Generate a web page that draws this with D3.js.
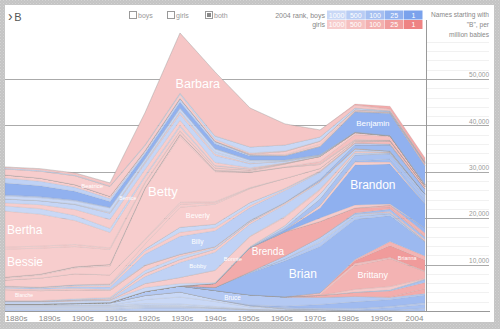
<!DOCTYPE html>
<html>
<head>
<meta charset="utf-8">
<script src="https://cdnjs.cloudflare.com/ajax/libs/d3/7.8.5/d3.min.js"></script>
<style>
  html, body { margin: 0; padding: 0; background: #c6c6c6; }
  svg { display: block; }
  text { font-family: "Liberation Sans", Arial, sans-serif; }
</style>
</head>
<body>
<script>
var WIDTH = 500, HEIGHT = 329;

// decades on the x axis; the last column is the 2004 figure
var decades = [1880, 1890, 1900, 1910, 1920, 1930, 1940, 1950, 1960, 1970, 1980, 1990, 2000];
var decadeLabels = ['1880s', '1890s', '1900s', '1910s', '1920s', '1930s', '1940s',
                    '1950s', '1960s', '1970s', '1980s', '1990s', '2004'];
var yTicks = [10000, 20000, 30000, 40000, 50000];

// 2004 popularity rank buckets shown in the key
var rankSteps = [1000, 500, 100, 25, 1];
var boyShades = ['#c9d8f6', '#b8ccf4', '#a5bff1', '#90b1ef', '#7aa2ec'];
var girlShades = ['#f7cdcd', '#f5c0c0', '#f3b0b0', '#f09c9c', '#ee8383'];

// babies per million, one value per decade (0 rank = not in the 2004 top 1000)
var boyNames = ['Barney', 'Barry', 'Beau', 'Ben', 'Benjamin', 'Bennett', 'Bennie', 'Benny',
  'Bernard', 'Bert', 'Bill', 'Billy', 'Blake', 'Bob', 'Bobby', 'Boyd', 'Brad', 'Braden',
  'Bradley', 'Brady', 'Brandon', 'Brayden', 'Brendan', 'Brent', 'Bret', 'Brett', 'Brian',
  'Brock', 'Brody', 'Bruce', 'Bryan', 'Bryant', 'Bryce', 'Bryson', 'Bud', 'Buddy', 'Buford',
  'Burl', 'Burt', 'Burton', 'Byron'];
var boyRanks = [0, 0, 300, 700, 26, 350, 0, 0, 900, 0, 0, 600, 75, 0, 700, 0, 0, 170,
  150, 100, 22, 45, 100, 600, 0, 400, 55, 500, 150, 350, 70, 450, 120, 250, 0, 0, 0,
  0, 0, 0, 600];
var boyValues = [
  [215, 215, 170, 110, 110, 110, 65, 0, 0, 0, 0, 0, 0],
  [0, 0, 0, 0, 110, 215, 645, 1295, 1295, 860, 325, 110, 0],
  [0, 0, 0, 0, 0, 0, 0, 0, 0, 0, 0, 215, 215],
  [1080, 970, 860, 645, 430, 645, 430, 215, 110, 110, 110, 110, 150],
  [2585, 2370, 1940, 1295, 1080, 1295, 1080, 860, 860, 1725, 4310, 4740, 3880],
  [215, 215, 170, 110, 65, 65, 65, 65, 65, 45, 45, 65, 215],
  [645, 645, 645, 860, 540, 645, 645, 325, 110, 45, 0, 0, 0],
  [0, 0, 110, 215, 215, 215, 430, 325, 110, 65, 0, 0, 0],
  [860, 860, 1080, 1295, 1295, 1295, 1510, 860, 325, 170, 85, 0, 0],
  [1120, 1185, 1080, 860, 325, 325, 110, 65, 0, 0, 0, 0, 0],
  [110, 110, 215, 215, 430, 1080, 755, 645, 215, 110, 0, 0, 0],
  [215, 215, 325, 540, 2370, 3880, 3450, 2800, 2585, 1510, 430, 215, 0],
  [0, 0, 0, 0, 0, 0, 0, 0, 0, 325, 755, 1295, 1080],
  [110, 110, 215, 215, 645, 645, 325, 215, 110, 0, 0, 0, 0],
  [0, 0, 65, 110, 1510, 3230, 3880, 2585, 2585, 1510, 430, 215, 0],
  [430, 430, 430, 430, 860, 540, 215, 110, 0, 0, 0, 0, 0],
  [0, 0, 0, 0, 0, 0, 0, 65, 430, 1080, 430, 110, 0],
  [0, 0, 0, 0, 0, 0, 0, 0, 0, 0, 0, 215, 645],
  [0, 0, 0, 0, 0, 0, 0, 110, 540, 1295, 1295, 1080, 645],
  [0, 0, 0, 0, 0, 0, 0, 0, 0, 65, 215, 645, 860],
  [0, 0, 0, 0, 0, 0, 0, 0, 430, 2155, 8620, 8620, 5170],
  [0, 0, 0, 0, 0, 0, 0, 0, 0, 0, 0, 0, 1080],
  [0, 0, 0, 0, 0, 0, 0, 0, 0, 0, 215, 540, 540],
  [0, 0, 0, 0, 0, 0, 0, 110, 645, 860, 430, 215, 110],
  [0, 0, 0, 0, 0, 0, 0, 0, 0, 215, 110, 0, 0],
  [0, 0, 0, 0, 0, 0, 0, 110, 430, 860, 645, 430, 110],
  [0, 0, 0, 0, 0, 0, 645, 4740, 7760, 10020, 8620, 5605, 3015],
  [0, 0, 0, 0, 0, 0, 0, 0, 0, 0, 65, 110, 110],
  [0, 0, 0, 0, 0, 0, 0, 0, 0, 0, 0, 110, 645],
  [110, 110, 110, 110, 860, 1295, 1940, 2155, 1940, 1510, 1165, 430, 280],
  [0, 0, 0, 0, 0, 0, 0, 170, 325, 860, 1510, 1510, 1725],
  [0, 0, 0, 0, 0, 0, 0, 0, 215, 215, 215, 215, 325],
  [0, 0, 0, 0, 0, 0, 0, 0, 0, 65, 215, 645, 860],
  [0, 0, 0, 0, 0, 0, 0, 0, 0, 0, 0, 110, 540],
  [215, 215, 325, 430, 860, 1080, 430, 280, 65, 0, 0, 0, 0],
  [0, 0, 65, 110, 860, 1510, 1080, 430, 215, 215, 0, 0, 0],
  [215, 215, 215, 215, 325, 325, 215, 110, 0, 0, 0, 0, 0],
  [110, 110, 110, 110, 215, 215, 110, 45, 0, 0, 0, 0, 0],
  [325, 325, 325, 325, 215, 110, 0, 0, 0, 0, 0, 0, 0],
  [215, 215, 215, 215, 215, 215, 110, 65, 110, 0, 0, 0, 0],
  [325, 325, 325, 325, 645, 645, 540, 215, 110, 65, 45, 20, 20]
];

var girlNames = ['Bailey', 'Barbara', 'Beatrice', 'Becky', 'Belinda', 'Bella', 'Belle',
  'Bernadine', 'Bernice', 'Bertha', 'Bertie', 'Bessie', 'Beth', 'Bethany', 'Betsy', 'Bettie',
  'Betty', 'Bettye', 'Beulah', 'Beverly', 'Bianca', 'Billie', 'Birdie', 'Blanche', 'Bobbi',
  'Bobbie', 'Bonita', 'Bonnie', 'Brandi', 'Brandy', 'Breanna', 'Brenda', 'Brenna', 'Briana',
  'Brianna', 'Bridget', 'Brittany', 'Brittney', 'Brooke', 'Brooklyn'];
var girlRanks = [65, 700, 0, 0, 0, 150, 0, 0, 0, 0, 0, 0, 0, 500, 0, 0, 0, 0, 0, 0, 300,
  0, 0, 0, 0, 0, 0, 0, 0, 900, 120, 70, 400, 150, 22, 500, 130, 800, 80, 70];
var girlValues = [
  [0, 0, 0, 0, 0, 0, 0, 0, 0, 0, 215, 645, 860],
  [215, 325, 430, 645, 6895, 12930, 13790, 8405, 4525, 1510, 645, 325, 110],
  [1295, 1510, 1940, 2155, 1080, 860, 430, 215, 110, 65, 45, 0, 0],
  [0, 0, 0, 0, 0, 0, 0, 110, 645, 645, 215, 65, 0],
  [0, 0, 0, 0, 0, 0, 65, 110, 215, 430, 170, 45, 0],
  [0, 0, 0, 0, 0, 0, 0, 0, 0, 0, 0, 45, 430],
  [645, 645, 540, 430, 215, 110, 45, 0, 0, 0, 0, 0, 0],
  [0, 0, 0, 110, 215, 430, 325, 110, 0, 0, 0, 0, 0],
  [645, 860, 1295, 1940, 1295, 1080, 645, 215, 110, 45, 0, 0, 0],
  [7760, 6895, 5170, 3340, 1080, 860, 430, 215, 110, 0, 0, 0, 0],
  [430, 430, 430, 325, 215, 110, 45, 0, 0, 0, 0, 0, 0],
  [6035, 5605, 4375, 3230, 1080, 645, 430, 215, 65, 0, 0, 0, 0],
  [0, 0, 0, 0, 0, 0, 110, 215, 605, 1080, 430, 110, 0],
  [0, 0, 0, 0, 0, 0, 0, 0, 65, 430, 1080, 860, 325],
  [0, 0, 0, 0, 0, 0, 0, 0, 0, 215, 110, 45, 0],
  [215, 215, 215, 325, 215, 430, 215, 110, 45, 0, 0, 0, 0],
  [430, 645, 1295, 1940, 10775, 14225, 6465, 3230, 2370, 860, 215, 65, 0],
  [0, 0, 0, 0, 215, 430, 215, 110, 0, 0, 0, 0, 0],
  [1295, 1940, 2370, 1940, 860, 645, 325, 110, 0, 0, 0, 0, 0],
  [0, 0, 0, 110, 1080, 4310, 4310, 3015, 2155, 540, 215, 65, 0],
  [0, 0, 0, 0, 0, 0, 0, 0, 0, 65, 215, 645, 540],
  [110, 110, 215, 325, 645, 860, 645, 430, 215, 110, 0, 0, 0],
  [325, 325, 325, 215, 110, 45, 0, 0, 0, 0, 0, 0, 0],
  [2370, 2155, 1940, 1510, 1080, 430, 215, 110, 0, 0, 0, 0, 0],
  [0, 0, 0, 0, 0, 0, 0, 0, 110, 215, 110, 0, 0],
  [65, 65, 110, 215, 645, 645, 645, 430, 215, 65, 0, 0, 0],
  [0, 0, 0, 0, 0, 0, 65, 110, 215, 215, 65, 0, 0],
  [110, 110, 110, 110, 860, 1295, 2585, 2155, 1725, 860, 325, 110, 0],
  [0, 0, 0, 0, 0, 0, 0, 0, 0, 540, 645, 430, 0],
  [0, 0, 0, 0, 0, 0, 0, 0, 0, 755, 645, 215, 0],
  [0, 0, 0, 0, 0, 0, 0, 0, 0, 0, 0, 430, 645],
  [0, 0, 0, 0, 0, 0, 860, 5170, 5170, 3450, 1080, 430, 215],
  [0, 0, 0, 0, 0, 0, 0, 0, 0, 0, 0, 215, 325],
  [0, 0, 0, 0, 0, 0, 0, 0, 0, 0, 215, 860, 860],
  [0, 0, 0, 0, 0, 0, 0, 0, 0, 0, 645, 2585, 2370],
  [0, 0, 0, 0, 0, 0, 0, 0, 0, 430, 430, 215, 110],
  [0, 0, 0, 0, 0, 0, 0, 0, 0, 110, 5170, 6035, 1510],
  [0, 0, 0, 0, 0, 0, 0, 0, 0, 0, 580, 710, 110],
  [0, 0, 0, 0, 0, 0, 0, 0, 65, 430, 860, 1295, 1295],
  [0, 0, 0, 0, 0, 0, 0, 0, 0, 0, 0, 110, 1080]
];

// names written inside their band: [name, year where it sits, font size, anchor]
var bandLabels = [
  ['Barbara', 1935.1, 12.5, 'middle'], ['Betty', 1925.1, 13, 'middle'],
  ['Bertha', 1885.7, 12, 'start'], ['Bessie', 1885.7, 12, 'start'],
  ['Blanche', 1885.1, 5, 'start'], ['Beatrice', 1904.9, 6, 'middle'],
  ['Bernice', 1915.1, 5, 'middle'], ['Beverly', 1935.1, 7.2, 'middle'],
  ['Billy', 1935, 6.5, 'middle'], ['Bobby', 1935.1, 6, 'middle'],
  ['Bonnie', 1945.1, 5.8, 'middle'], ['Bruce', 1945, 6.4, 'middle'],
  ['Brenda', 1955.1, 10, 'middle'], ['Brian', 1965.1, 12, 'middle'],
  ['Benjamin', 1985.1, 8, 'middle'], ['Brandon', 1985.1, 12, 'middle'],
  ['Brittany', 1985.1, 9, 'middle'], ['Brianna', 1994.9, 5.4, 'middle']
];
var labelLeft = { Bertha: 7, Bessie: 7, Blanche: 15 };

// ---- build the table ----
var people = boyNames.map(function (n, i) {
  return { name: n, sex: 'M', rank: boyRanks[i], values: boyValues[i] };
}).concat(girlNames.map(function (n, i) {
  return { name: n, sex: 'F', rank: girlRanks[i], values: girlValues[i] };
})).sort(function (a, b) { return d3.ascending(a.name, b.name); });

var byName = {};
people.forEach(function (p) { byName[p.name] = p; });

var rows = decades.map(function (yr, i) {
  var row = { year: yr };
  people.forEach(function (p) { row[p.name] = p.values[i]; });
  return row;
});

// alphabetical from the top down, so the first name goes on last
var keys = people.map(function (p) { return p.name; }).reverse();
var series = d3.stack().keys(keys)(rows);

var x = d3.scaleLinear().domain([1880, 2000]).range([5, 425]);
var y = d3.scaleLinear().domain([0, 50000]).range([311, 79]);
var xLabel = d3.scalePoint().domain(decadeLabels).range([16.5, 414.5]);

var boyColor = d3.scaleLog().domain(rankSteps).range(boyShades).clamp(true);
var girlColor = d3.scaleLog().domain(rankSteps).range(girlShades).clamp(true);
function fillFor(p) {
  var r = p.rank || 1000;
  return p.sex === 'M' ? boyColor(r) : girlColor(r);
}

// ---- page ----
var svg = d3.select('body').append('svg')
  .attr('width', WIDTH)
  .attr('height', HEIGHT);

var pat = svg.append('defs').append('pattern')
  .attr('id', 'frame')
  .attr('width', 3).attr('height', 3)
  .attr('patternUnits', 'userSpaceOnUse');
pat.append('rect').attr('width', 3).attr('height', 3).attr('fill', '#c4c4c4');
pat.append('rect').attr('width', 1).attr('height', 1).attr('fill', '#d3d3d3');
pat.append('rect').attr('x', 1.5).attr('y', 1.5).attr('width', 1).attr('height', 1).attr('fill', '#d0d0d0');

svg.append('rect').attr('width', WIDTH).attr('height', HEIGHT).attr('fill', 'url(#frame)');
svg.append('rect').attr('x', 5).attr('y', 5).attr('width', 489).attr('height', 317).attr('fill', '#fff');

// faint minor lines in the scale column
var minor = d3.range(2000, 60000, 2000).filter(function (v) { return v % 10000 !== 0; });
svg.append('g').selectAll('line')
  .data(minor)
  .enter()
  .append('line')
  .attr('x1', 427).attr('x2', 489)
  .attr('y1', function (d) { return Math.round(y(d)) + 0.5; })
  .attr('y2', function (d) { return Math.round(y(d)) + 0.5; })
  .attr('stroke', '#f1f1f1');

// major gridlines run under the stream
svg.append('g').selectAll('line')
  .data(yTicks)
  .enter()
  .append('line')
  .attr('x1', 5).attr('x2', 489)
  .attr('y1', function (d) { return Math.round(y(d)) + 0.5; })
  .attr('y2', function (d) { return Math.round(y(d)) + 0.5; })
  .attr('stroke', '#aaa');

var area = d3.area()
  .x(function (d) { return x(d.data.year); })
  .y0(function (d) { return y(d[0]); })
  .y1(function (d) { return y(d[1]); });

svg.append('g')
  .selectAll('path')
  .data(series)
  .enter()
  .append('path')
  .attr('d', area)
  .attr('fill', function (s) { return fillFor(byName[s.key]); })
  .attr('stroke', 'rgba(150,150,150,0.25)')
  .attr('stroke-width', 0.6);

// band labels sit on the middle of the band at the given year
function bandMid(s, year) {
  var i = Math.max(0, Math.min(decades.length - 2, Math.floor((year - decades[0]) / 10)));
  var t = (year - decades[i]) / 10;
  var a = s[i], b = s[i + 1];
  var lo = a[0] + (b[0] - a[0]) * t;
  var hi = a[1] + (b[1] - a[1]) * t;
  return y((lo + hi) / 2);
}
var seriesByKey = {};
series.forEach(function (s) { seriesByKey[s.key] = s; });

svg.append('g')
  .selectAll('text')
  .data(bandLabels)
  .enter()
  .append('text')
  .attr('x', function (d) { return d[3] === 'start' ? labelLeft[d[0]] : x(d[1]); })
  .attr('y', function (d) { return bandMid(seriesByKey[d[0]], d[1]); })
  .attr('dy', '0.36em')
  .attr('text-anchor', function (d) { return d[3]; })
  .attr('font-size', function (d) { return d[2] + 'px'; })
  .attr('fill', '#fff')
  .text(function (d) { return d[0]; });

// axis frame
svg.append('line')
  .attr('x1', 5).attr('x2', 490).attr('y1', 311.5).attr('y2', 311.5)
  .attr('stroke', '#999');
svg.append('line')
  .attr('x1', 426.5).attr('x2', 426.5).attr('y1', 20).attr('y2', 311.5)
  .attr('stroke', '#999');

svg.append('g').selectAll('text')
  .data(yTicks)
  .enter()
  .append('text')
  .attr('x', 489)
  .attr('y', function (d) { return y(d) - 1.8; })
  .attr('text-anchor', 'end')
  .attr('font-size', '6.5px')
  .attr('fill', '#999')
  .text(d3.format(','));

svg.append('g').selectAll('text')
  .data(decadeLabels)
  .enter()
  .append('text')
  .attr('x', function (d) { return xLabel(d); })
  .attr('y', 321)
  .attr('text-anchor', 'middle')
  .attr('font-size', '8px')
  .attr('fill', '#888')
  .text(function (d) { return d; });

// header: search prefix, filter boxes, rank key
var prefix = svg.append('text').attr('x', 8).attr('y', 21).attr('fill', '#555');
prefix.append('tspan').attr('font-size', '14px').attr('dy', -0.5).text('\u203A');
prefix.append('tspan').attr('font-size', '11px').attr('dx', 1.5).attr('dy', 0.5).text('B');

var filters = [['boys', 129.5, false], ['girls', 167.5, false], ['both', 205.5, true]];
var box = svg.append('g').selectAll('g')
  .data(filters)
  .enter()
  .append('g');
box.append('rect')
  .attr('x', function (d) { return d[1]; }).attr('y', 11.5)
  .attr('width', 7).attr('height', 7)
  .attr('fill', '#fff').attr('stroke', '#999');
box.filter(function (d) { return d[2]; })
  .append('rect')
  .attr('x', function (d) { return d[1] + 1.5; }).attr('y', 13)
  .attr('width', 4).attr('height', 4)
  .attr('fill', '#888');
box.append('text')
  .attr('x', function (d) { return d[1] + 8.5; }).attr('y', 17.5)
  .attr('font-size', '7px')
  .attr('fill', '#999')
  .text(function (d) { return d[0]; });

var keyRows = [['2004 rank, boys', boyShades, 10.5], ['girls', girlShades, 20]];
var cellW = 19.2;
keyRows.forEach(function (kr) {
  svg.append('text')
    .attr('x', 325).attr('y', kr[2] + 7)
    .attr('text-anchor', 'end')
    .attr('font-size', '7px')
    .attr('fill', '#888')
    .text(kr[0]);
  var cell = svg.append('g').selectAll('g')
    .data(rankSteps)
    .enter()
    .append('g')
    .attr('transform', function (d, i) { return 'translate(' + (327 + i * cellW) + ',' + kr[2] + ')'; });
  cell.append('rect')
    .attr('width', cellW - 0.5).attr('height', 9)
    .attr('fill', function (d, i) { return kr[1][i]; });
  cell.append('text')
    .attr('x', cellW / 2).attr('y', 7)
    .attr('text-anchor', 'middle')
    .attr('font-size', '7px')
    .attr('fill', '#fff')
    .text(function (d) { return d; });
});

svg.append('g').selectAll('text')
  .data(['Names starting with', '"B", per', 'million babies'])
  .enter()
  .append('text')
  .attr('x', 489)
  .attr('y', function (d, i) { return [17.3, 27.3, 36.8][i]; })
  .attr('text-anchor', 'end')
  .attr('font-size', '6.6px')
  .attr('fill', '#888')
  .text(function (d) { return d; });
</script>
</body>
</html>
